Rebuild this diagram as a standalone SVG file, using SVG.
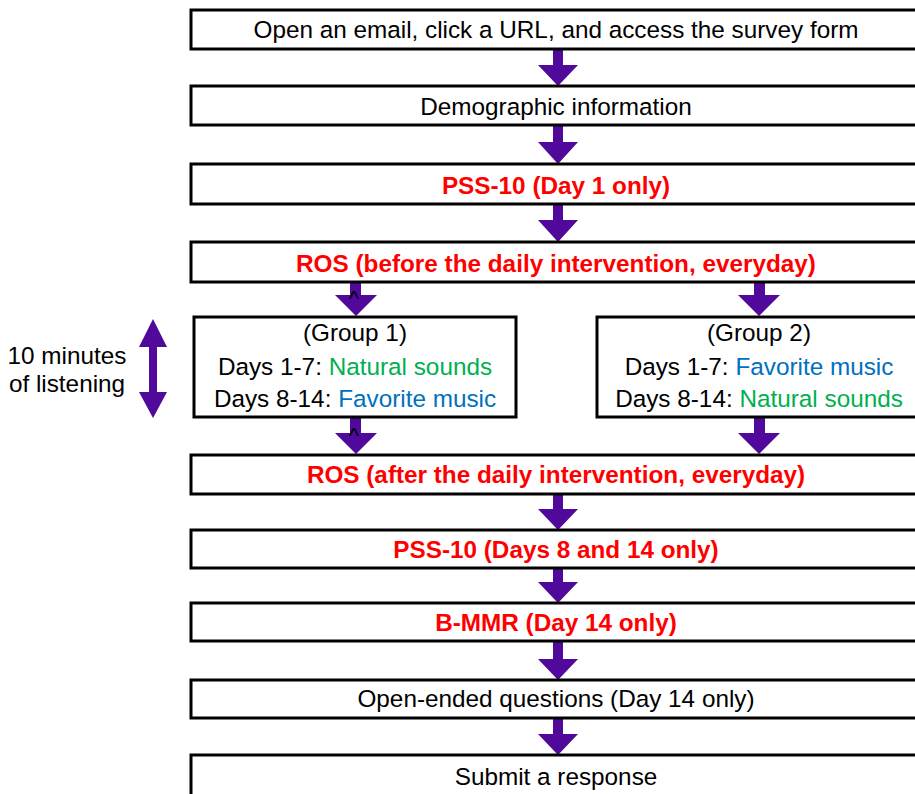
<svg xmlns="http://www.w3.org/2000/svg" width="915" height="794" viewBox="0 0 915 794">
<style>
.box{fill:#fff;stroke:#000;stroke-width:3}
.t{font-family:"Liberation Sans",Arial,sans-serif;font-size:24.3px;fill:#000;text-anchor:middle}
.r{fill:#ff0000;font-weight:bold}
.g{fill:#00b050}
.b{fill:#0070c0}
.arr{fill:#50099a}
.car{font-family:"Liberation Sans",Arial,sans-serif;font-size:22px;fill:#000;text-anchor:middle}
</style>
<rect width="915" height="794" fill="#fff"/>
<g id="connectors">
<polygon class="arr" points="553,49 563,49 563,65 578,65 558,86 538,65 553,65"/>
<polygon class="arr" points="553,125 563,125 563,142 578,142 558,164 538,142 553,142"/>
<polygon class="arr" points="553,204 563,204 563,220 578,220 558,242 538,220 553,220"/>
<polygon class="arr" points="350,282 361,282 361,295 377,295 356,316 335,295 350,295"/>
<polygon class="arr" points="754,282 765,282 765,295 780,295 759,316 738,295 754,295"/>
<polygon class="arr" points="350,417 361,417 361,433 377,433 356,454 335,433 350,433"/>
<polygon class="arr" points="754,417 765,417 765,433 780,433 759,454 738,433 754,433"/>
<polygon class="arr" points="553,494 563,494 563,509 578,509 558,530 538,509 553,509"/>
<polygon class="arr" points="553,568 563,568 563,582 578,582 558,603 538,582 553,582"/>
<polygon class="arr" points="553,641 563,641 563,659 578,659 558,680 538,659 553,659"/>
<polygon class="arr" points="553,718 563,718 563,734 578,734 558,755 538,734 553,734"/>
<text class="car" x="354" y="306">^</text>
<text class="car" x="354" y="443">^</text>
</g>
<g id="n1"><rect class="box" x="191" y="10" width="740" height="39"/><text class="t" x="556" y="38">Open an email, click a URL, and access the survey form</text></g>
<g id="n2"><rect class="box" x="191" y="86" width="740" height="39"/><text class="t" x="556" y="115">Demographic information</text></g>
<g id="n3"><rect class="box" x="191" y="164" width="740" height="40"/><text class="t r" x="556" y="194">PSS-10 (Day 1 only)</text></g>
<g id="n4"><rect class="box" x="191" y="242" width="740" height="40"/><text class="t r" x="556" y="272">ROS (before the daily intervention, everyday)</text></g>
<g id="g1"><rect class="box" x="194" y="317" width="322" height="100"/>
<text class="t" x="355" y="341">(Group 1)</text>
<text class="t" x="355" y="375">Days 1-7: <tspan class="g">Natural sounds</tspan></text>
<text class="t" x="355" y="407">Days 8-14: <tspan class="b">Favorite music</tspan></text></g>
<g id="g2"><rect class="box" x="597" y="317" width="340" height="100"/>
<text class="t" x="759" y="341">(Group 2)</text>
<text class="t" x="759" y="375">Days 1-7: <tspan class="b">Favorite music</tspan></text>
<text class="t" x="759" y="407">Days 8-14: <tspan class="g">Natural sounds</tspan></text></g>
<g id="label"><text class="t" x="67" y="364">10 minutes</text><text class="t" x="67" y="392">of listening</text>
<polygon class="arr" points="153,319 167,347 157,347 157,392 167,392 153,418 139,392 149,392 149,347 139,347"/></g>
<g id="n5"><rect class="box" x="191" y="455" width="740" height="39"/><text class="t r" x="556" y="483">ROS (after the daily intervention, everyday)</text></g>
<g id="n6"><rect class="box" x="191" y="530" width="740" height="38"/><text class="t r" x="556" y="558">PSS-10 (Days 8 and 14 only)</text></g>
<g id="n7"><rect class="box" x="191" y="603" width="740" height="38"/><text class="t r" x="556" y="631">B-MMR (Day 14 only)</text></g>
<g id="n8"><rect class="box" x="191" y="680" width="740" height="38"/><text class="t" x="556" y="707">Open-ended questions (Day 14 only)</text></g>
<g id="n9"><rect class="box" x="191" y="755" width="740" height="50"/><text class="t" x="556" y="785">Submit a response</text></g>
</svg>
